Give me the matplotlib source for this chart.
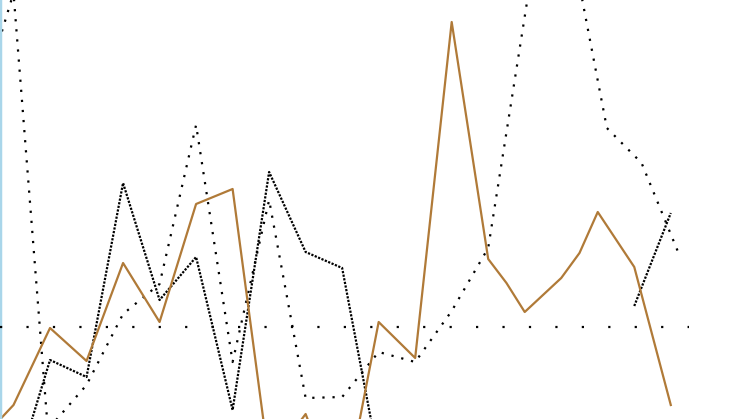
import numpy as np
import matplotlib
matplotlib.use("Agg")
import matplotlib.pyplot as plt

# values; x = step index, y = offset from the dotted baseline
x_orange = [-1, 0, 1, 2, 3, 4, 5, 6, 7, 8, 9, 10, 11, 12, 13, 13.5, 14, 15, 15.5, 16, 17, 18]
y_orange = [-11.7, -7.8, -0.1, -3.4, 6.4, 0.5, 12.3, 13.8, -13.6, -8.7, -18.3, 0.5, -3.1,
            30.5, 6.8, 4.4, 1.5, 4.9, 7.4, 11.5, 6.0, -7.8]

x_a = [-1, 0, 1]
y_a = [21.3, 33.4, -13.0]

x_b = [0, 1, 2, 3, 4, 5, 6, 7, 8, 9, 10]
y_b = [-15.3, -3.3, -5.0, 14.4, 2.7, 7.0, -8.3, 15.5, 7.5, 5.9, -13.3]

x_c = [1, 2, 3, 4, 5, 6, 7, 8, 9, 10, 11, 12, 13, 14.75, 16.25, 17.2, 18.2]
y_c = [-10.0, -5.8, 1.3, 4.3, 20.2, -3.5, 12.7, -7.1, -7.0, -2.5, -3.5, 1.6, 7.9,
       48.4, 19.9, 16.4, 7.5]

x_g = [17, 18]
y_g = [2.1, 11.4]

baseline_x = [-0.37, 18.5]
baseline_y = [0, 0]

fig = plt.figure(figsize=(7.46, 4.19), dpi=100)
ax = fig.add_axes([0, 0, 1, 1])

lw = 1.6
dense = (0, (1, 0.65))
sparse = (0, (1, 3.55))
wide = (0, (1, 10.9))

ax.plot(baseline_x, baseline_y, color='black', linewidth=lw, linestyle=wide, zorder=3)
ax.plot(x_a, y_a, color='black', linewidth=lw, linestyle=sparse)
ax.plot(x_c, y_c, color='black', linewidth=lw, linestyle=sparse)
ax.plot(x_b, y_b, color='black', linewidth=lw, linestyle=dense)
ax.plot(x_g, y_g, color='black', linewidth=lw, linestyle=dense)
ax.plot(x_orange, y_orange, color='#b07a38', linewidth=1.6)

ax.set_xlim(-0.37, 20.06)
ax.set_ylim(-9.2, 32.7)
ax.set_xticks([])
ax.set_yticks([])
for side in ['top', 'right', 'bottom']:
    ax.spines[side].set_visible(False)
ax.spines['left'].set_color('#a9d6ea')
ax.spines['left'].set_linewidth(2.5)

fig.savefig("out.png", dpi=100)
